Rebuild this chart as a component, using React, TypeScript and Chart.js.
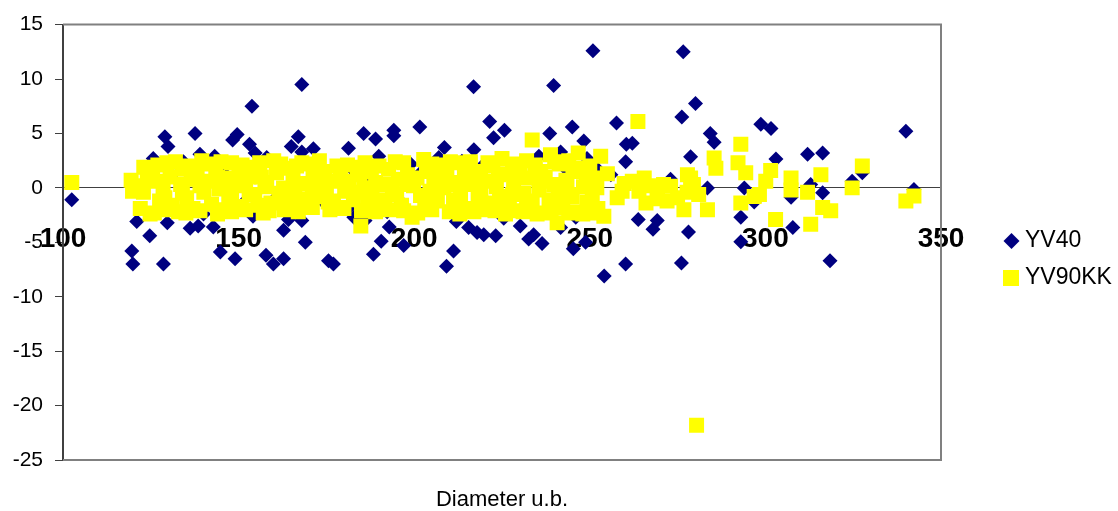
import React, { useEffect, useRef } from "react";
import { Chart, registerables } from "chart.js";

Chart.register(...registerables);

const seriesNames = ["YV40", "YV90KK"];
const seriesColors = ["#000080", "#FFFF00"];
const xAxisTitle = "Diameter u.b.";
const xTickValues = [100, 150, 200, 250, 300, 350];
const yTickValues = [-25, -20, -15, -10, -5, 0, 5, 10, 15];

const yv40Points: [number, number][] = [
  [102.5, -1.1],
  [119.6, -5.8], [119.9, -7.0], [121, -3.1], [124.7, -4.4], [125.7, 2.7], [124.3, 1.7], [128.6, -7.0],
  [129, 4.7], [129.9, 3.8], [129.7, -3.2], [136.2, -3.7], [137.6, 5.0], [138.5, -3.5], [139, 3.1],
  [142.8, -3.6], [143.2, 2.9], [144.8, -5.9], [149, -6.5], [148.3, 4.4], [149.6, 4.9], [153.8, 7.5],
  [153.1, 4.0], [154.7, 3.2], [154.1, -2.6], [157.8, -6.2], [159.9, -7.0], [162.8, -6.5], [162.8, -3.9],
  [164.2, -2.9], [168, -3.0], [169, -5.0], [168, 9.5], [167, 4.7], [165, 3.8], [168, 3.3], [171.3, 3.6],
  [175.6, -6.7], [177, -7.0], [173.9, -1.2], [181.3, 3.65], [185.6, 5.0], [189, 4.5], [189.9, 2.9],
  [194.2, 5.3], [194.2, 4.8], [188.4, -6.1], [190.6, -4.9], [192.9, -3.6], [186.4, -2.4], [181.1, -1.9],
  [177, -1.5], [182.8, -2.7], [192.3, -2.2], [186, -3.0], [197, -5.3], [201.6, 5.6], [208.6, 3.7],
  [202.2, 1.5], [206.5, -0.45], [209.2, -7.2], [211.2, -5.8], [212, -3.1], [215.5, -3.65], [217.9, -4.1],
  [219.8, -4.3], [223.2, -4.4], [225.5, -2.8], [216.9, 9.3], [221.5, 6.1], [225.7, 5.3], [222.6, 4.6],
  [217, 3.5], [213.6, 2.45], [230.2, -3.5], [232.6, -4.7], [234, -4.3], [236.4, -5.1], [239.7, 9.4],
  [238.6, 5.0], [245, 5.6], [248.3, 4.3], [241.7, -3.65], [245.3, -5.6], [248.8, -5.0], [239.7, -1.45],
  [235.5, 2.9], [241.7, 3.3], [249.2, 2.7], [252.2, 1.7], [250.9, 12.6], [254.1, -8.1], [257.6, 5.95],
  [260.4, 4.0], [262.1, 4.1], [260.2, 2.4], [260.2, -7.0], [263.8, -2.9], [269.2, -3.0], [268, -3.8],
  [276.6, 12.5], [280.1, 7.75], [276.2, 6.5], [278.7, 2.85], [284.3, 5.0], [285.4, 4.2], [283.5, 0],
  [273, 0.8], [278.1, -4.05], [276.1, -6.9], [293, -2.7], [293, -4.95], [294, 0], [296.8, -1.3],
  [298.7, 5.85], [301.6, 5.45], [303, 2.65], [307.3, -0.85], [307.8, -3.65], [312, 3.1], [316.3, 3.2],
  [312.9, 0.3], [316.3, -0.45], [318.4, -6.7], [324.7, 0.6], [327.6, 1.4], [340, 5.2], [342.3, -0.15],
  [131, 1.2], [134.3, 2.4], [140, -2.4], [146, 1.9], [151, -1.5], [158, 2.8], [161, -0.8], [170, 0.5],
  [173.7, -0.5], [183, 1.5], [188, 0.8], [196, -1.2], [199, 2.2], [203.7, -1.5], [207, 2.8], [214, -1.8],
  [220, 2.2], [228, -1.9], [229.5, 1.6], [233, 2.4], [237, -2.2], [243, 1.8], [246, -2.7], [251, -2.2],
  [256, 1.2], [266, 0.5], [270, -0.8],
];

const yv90kkPoints: [number, number][] = [
  [102.5, 0.5],
  [119.4, 0.7], [119.8, -0.3], [121.5, 0.2], [122.9, -0.4], [124.8, -2.4], [125.5, 1.1], [126.7, 0.6],
  [127.5, -1.2], [128.5, -0.2], [129.6, 2.3], [130.5, 1.0], [131, -1.6], [132.9, -2.2], [133.5, 0.3],
  [134, 1.7], [135.2, -0.9], [136.5, 0.8], [137, -1.9], [138.2, 1.4], [139.5, 2.5], [140.1, -0.4],
  [141, 0.6], [142.3, -1.5], [143.5, 1.8], [144.4, -0.1], [145.6, -2.0], [146.5, 0.9], [147.2, -1.0],
  [148, 2.3], [149, 0.2], [150.1, 1.5], [150.8, -1.7], [152, 0.6], [153, -0.6], [154.2, 1.9],
  [154.6, -0.6], [155.5, -1.6], [156.5, 1.0], [157.5, 0.1], [158.7, -2.1], [159.2, -1.4], [160, 2.5],
  [160.8, 1.4], [161.5, -0.5], [162.8, 0.0], [163.8, 1.8], [164.7, -1.2], [165.5, 0.7], [166.5, 2.0],
  [167.5, -1.4], [168.1, -1.0], [169, 0.4], [170.4, 2.2], [171.2, 1.2], [172.3, 0.3], [173.2, -0.8],
  [174.6, 1.5], [175.5, -1.3], [176.3, 0.6], [177, -1.2], [178, 2.0], [179, 1.0], [180.2, -0.3],
  [181.5, 0.6], [182.7, -1.1], [183.8, 1.9], [184.6, 1.2], [184.8, -3.5], [185.7, 0.0], [186.8, -0.9],
  [187.8, 1.5], [189, 0.5], [190, -1.4], [191.3, 0.3], [191.6, -1.1], [192.7, 1.7], [193.8, -0.4],
  [194.6, 2.4], [195.5, 0.8], [196.4, -1.6], [197, -2.1], [198.1, 1.2], [199.4, -2.7], [199.8, 0.2],
  [200.8, 0.9], [201.8, -0.7], [202.7, 2.6], [203.5, 1.5], [204.5, -0.3], [205.6, 0.6], [206.6, -1.2],
  [207.4, 2.1], [208.4, 0.0], [209.3, 1.3], [210.3, 2.4], [211.2, -1.1], [212.2, 0.5], [213.2, -0.6],
  [214.3, 1.7], [215.2, -1.9], [216.3, 0.3], [217.5, 1.1], [218.2, -0.9], [218.9, 1.5], [219, -2.0],
  [220.2, 0.6], [221.5, -1.4], [222.4, 2.0], [223.4, 0.1], [224.3, -0.8], [225, 2.7], [226.2, 1.3],
  [227.1, -1.6], [228.3, 0.5], [229.3, -2.1], [230.2, 1.8], [231.2, -0.5], [232.3, 0.9], [233.6, 4.4],
  [233.6, -1.2], [234.5, 2.1], [235.5, -0.2], [236, 1.5], [236.9, -2.3], [237.3, 1.0], [238.4, -1.1],
  [238.8, 3.05], [239.7, 0.3], [240.7, -3.2], [241.3, 2.2], [242.3, -1.8], [243.2, 0.7], [243.5, 0.3],
  [244.2, -0.6], [245.2, 1.5], [246.2, -2.2], [246.7, 3.2], [247.4, 1.8], [248.2, 0.1], [249.2, -1.3],
  [250.7, -0.8], [251.3, 0.9], [252.3, -1.9], [253.1, 2.9], [254, -2.6],
  [123, 1.9], [127, 2.1], [132, 2.4], [136, 2.0], [141, 2.2], [145, 2.4], [151, 2.1], [156, 2.3],
  [162, 2.2], [168, 2.3], [173, 2.5], [181, 2.1], [186, 2.3], [190, 2.0], [197, 2.3], [205, 2.2],
  [212, 2.3], [216, 2.4], [221, 2.3], [228, 2.2], [232, 2.5], [240, 2.4], [244, 2.5], [250, 2.0],
  [122, -1.9], [126, -2.3], [130, -2.0], [135, -2.3], [139, -2.1], [144, -2.4], [148, -2.2], [152, -2.0],
  [157, -2.3], [163, -2.0], [167, -2.2], [171, -1.8], [176, -2.0], [180, -1.9], [185, -2.1], [189, -2.2],
  [193, -2.0], [201, -2.3], [205, -2.0], [210, -2.2], [213, -2.4], [217, -2.2], [223, -2.1], [226, -2.4],
  [231, -2.2], [235, -2.4], [239, -2.0], [244, -2.3], [248, -2.4], [252, -2.3],
  [124, 0.9], [129, -0.9], [134, -0.5], [139, 0.2], [144, 1.0], [148, -0.4], [153, 1.0], [158, 0.5],
  [163, -1.6], [166, -0.3], [171, -0.7], [175, 0.0], [179, -1.8], [183, -0.4], [188, -0.3], [195, -0.6],
  [198, 0.3], [203, -1.6], [207, 0.9], [211, 0.3], [215, 0.8], [219, -0.3], [224, 1.2], [228, -0.6],
  [232, -1.5], [236, 0.6], [241, -0.6], [245, -0.8], [249, 1.1], [252, 0.0], [255, 1.3],
  [257.8, -0.9], [259.2, -0.3], [259.8, 0.4], [262.1, 0.6], [263.7, 6.1], [264, -0.3], [265.5, 0.9],
  [266, -1.4], [267.5, 0.2], [269.2, -0.45], [269.2, -1.0], [271, 0.3], [272, -1.2], [273, 0.15],
  [275, -0.9], [276.8, -2.0], [277.7, -0.4], [277.8, 1.2], [278.7, 0.9], [279.5, 0.3], [281, -0.6],
  [280.4, -21.8], [283.5, -2.0], [285.4, 2.75], [285.9, 1.8], [292.2, 2.3], [293, 4.0], [293, -1.4],
  [294.4, 1.4], [296.8, -0.8], [298.3, -0.6], [300.1, 0.6], [301.5, 1.6], [302.9, -2.9], [307.3, 0.9],
  [307.3, -0.2], [312, -0.4], [312.9, -3.35], [315.8, 1.2], [316.3, -1.8], [318.6, -2.1], [324.7, 0],
  [327.6, 2.0], [340, -1.2], [342.3, -0.75],
];

const FONT = '"Liberation Sans", Arial, sans-serif';

const decorPlugin = {
  id: "decor",
  beforeDatasetsDraw(chart: any) {
    const { ctx, chartArea } = chart;
    const { left, right, top, bottom } = chartArea;
    ctx.save();
    ctx.strokeStyle = "#808080";
    ctx.lineWidth = 2;
    ctx.beginPath();
    ctx.moveTo(left, top);
    ctx.lineTo(right, top);
    ctx.lineTo(right, bottom);
    ctx.lineTo(left, bottom);
    ctx.stroke();
    ctx.restore();
  },
  afterDraw(chart: any) {
    const { ctx, chartArea } = chart;
    const { left, right } = chartArea;
    ctx.save();
    const mx = right + 70.5;
    ctx.fillStyle = seriesColors[0];
    ctx.beginPath();
    ctx.moveTo(mx, 233);
    ctx.lineTo(mx + 8, 241);
    ctx.lineTo(mx, 249);
    ctx.lineTo(mx - 8, 241);
    ctx.closePath();
    ctx.fill();
    ctx.fillStyle = seriesColors[1];
    ctx.fillRect(mx - 8.5, 270, 16, 16);
    ctx.fillStyle = "#000";
    ctx.font = `23px ${FONT}`;
    ctx.textAlign = "left";
    ctx.textBaseline = "alphabetic";
    ctx.fillText(seriesNames[0], right + 84, 246.5);
    ctx.fillText(seriesNames[1], right + 84, 283.5);
    ctx.font = `22px ${FONT}`;
    ctx.textAlign = "center";
    ctx.fillText(xAxisTitle, (left + right) / 2, 506);
    ctx.restore();
  },
};

export default function App() {
  const canvasRef = useRef<HTMLCanvasElement | null>(null);

  useEffect(() => {
    const canvas = canvasRef.current;
    if (!canvas) return;
    const chart = new Chart(canvas, {
      type: "scatter",
      data: {
        datasets: [
          {
            label: seriesNames[0],
            data: yv40Points.map(([x, y]) => ({ x, y })),
            pointStyle: "rectRot",
            pointRadius: 7.5,
            pointHoverRadius: 7.5,
            borderWidth: 0,
            backgroundColor: seriesColors[0],
            borderColor: seriesColors[0],
            order: 1,
          },
          {
            label: seriesNames[1],
            data: yv90kkPoints.map(([x, y]) => ({ x, y })),
            pointStyle: "rect",
            pointRadius: 10.6,
            pointHoverRadius: 10.6,
            borderWidth: 0,
            backgroundColor: seriesColors[1],
            borderColor: seriesColors[1],
            order: 0,
          },
        ],
      },
      options: {
        responsive: false,
        animation: false,
        events: [],
        layout: { padding: { left: 0, top: 23, right: 177, bottom: 51 } },
        plugins: {
          legend: { display: false },
          tooltip: { enabled: false },
          title: { display: false },
        },
        scales: {
          x: {
            type: "linear",
            position: { y: 0 } as any,
            min: 100,
            max: 350,
            afterBuildTicks: (scale: any) => {
              scale.ticks = xTickValues.map((v) => ({ value: v }));
            },
            afterFit: (scale: any) => {
              scale.height = 0;
            },
            grid: {
              drawOnChartArea: false,
              drawTicks: true,
              tickLength: 5,
              color: "#404040",
            },
            border: { display: true, color: "#404040", width: 1 },
            ticks: {
              color: "#000",
              font: { family: FONT, size: 28, weight: "bold" },
              padding: 30,
              maxRotation: 0,
              autoSkip: false,
            },
          },
          y: {
            type: "linear",
            min: -25,
            max: 15,
            afterBuildTicks: (scale: any) => {
              scale.ticks = yTickValues.map((v) => ({ value: v }));
            },
            afterFit: (scale: any) => {
              scale.width = 63;
            },
            grid: {
              drawOnChartArea: false,
              drawTicks: true,
              tickLength: 8,
              color: "#404040",
            },
            border: { display: true, color: "#404040", width: 2 },
            ticks: {
              color: "#000",
              font: { family: FONT, size: 21 },
              padding: 12,
              autoSkip: false,
            },
          },
        },
      },
      plugins: [decorPlugin],
    });
    return () => chart.destroy();
  }, []);

  return (
    <div style={{ position: "absolute", left: 0, top: 0, width: 1118, height: 511, background: "#fff" }}>
      <canvas ref={canvasRef} width={1118} height={511} style={{ display: "block" }} />
    </div>
  );
}
